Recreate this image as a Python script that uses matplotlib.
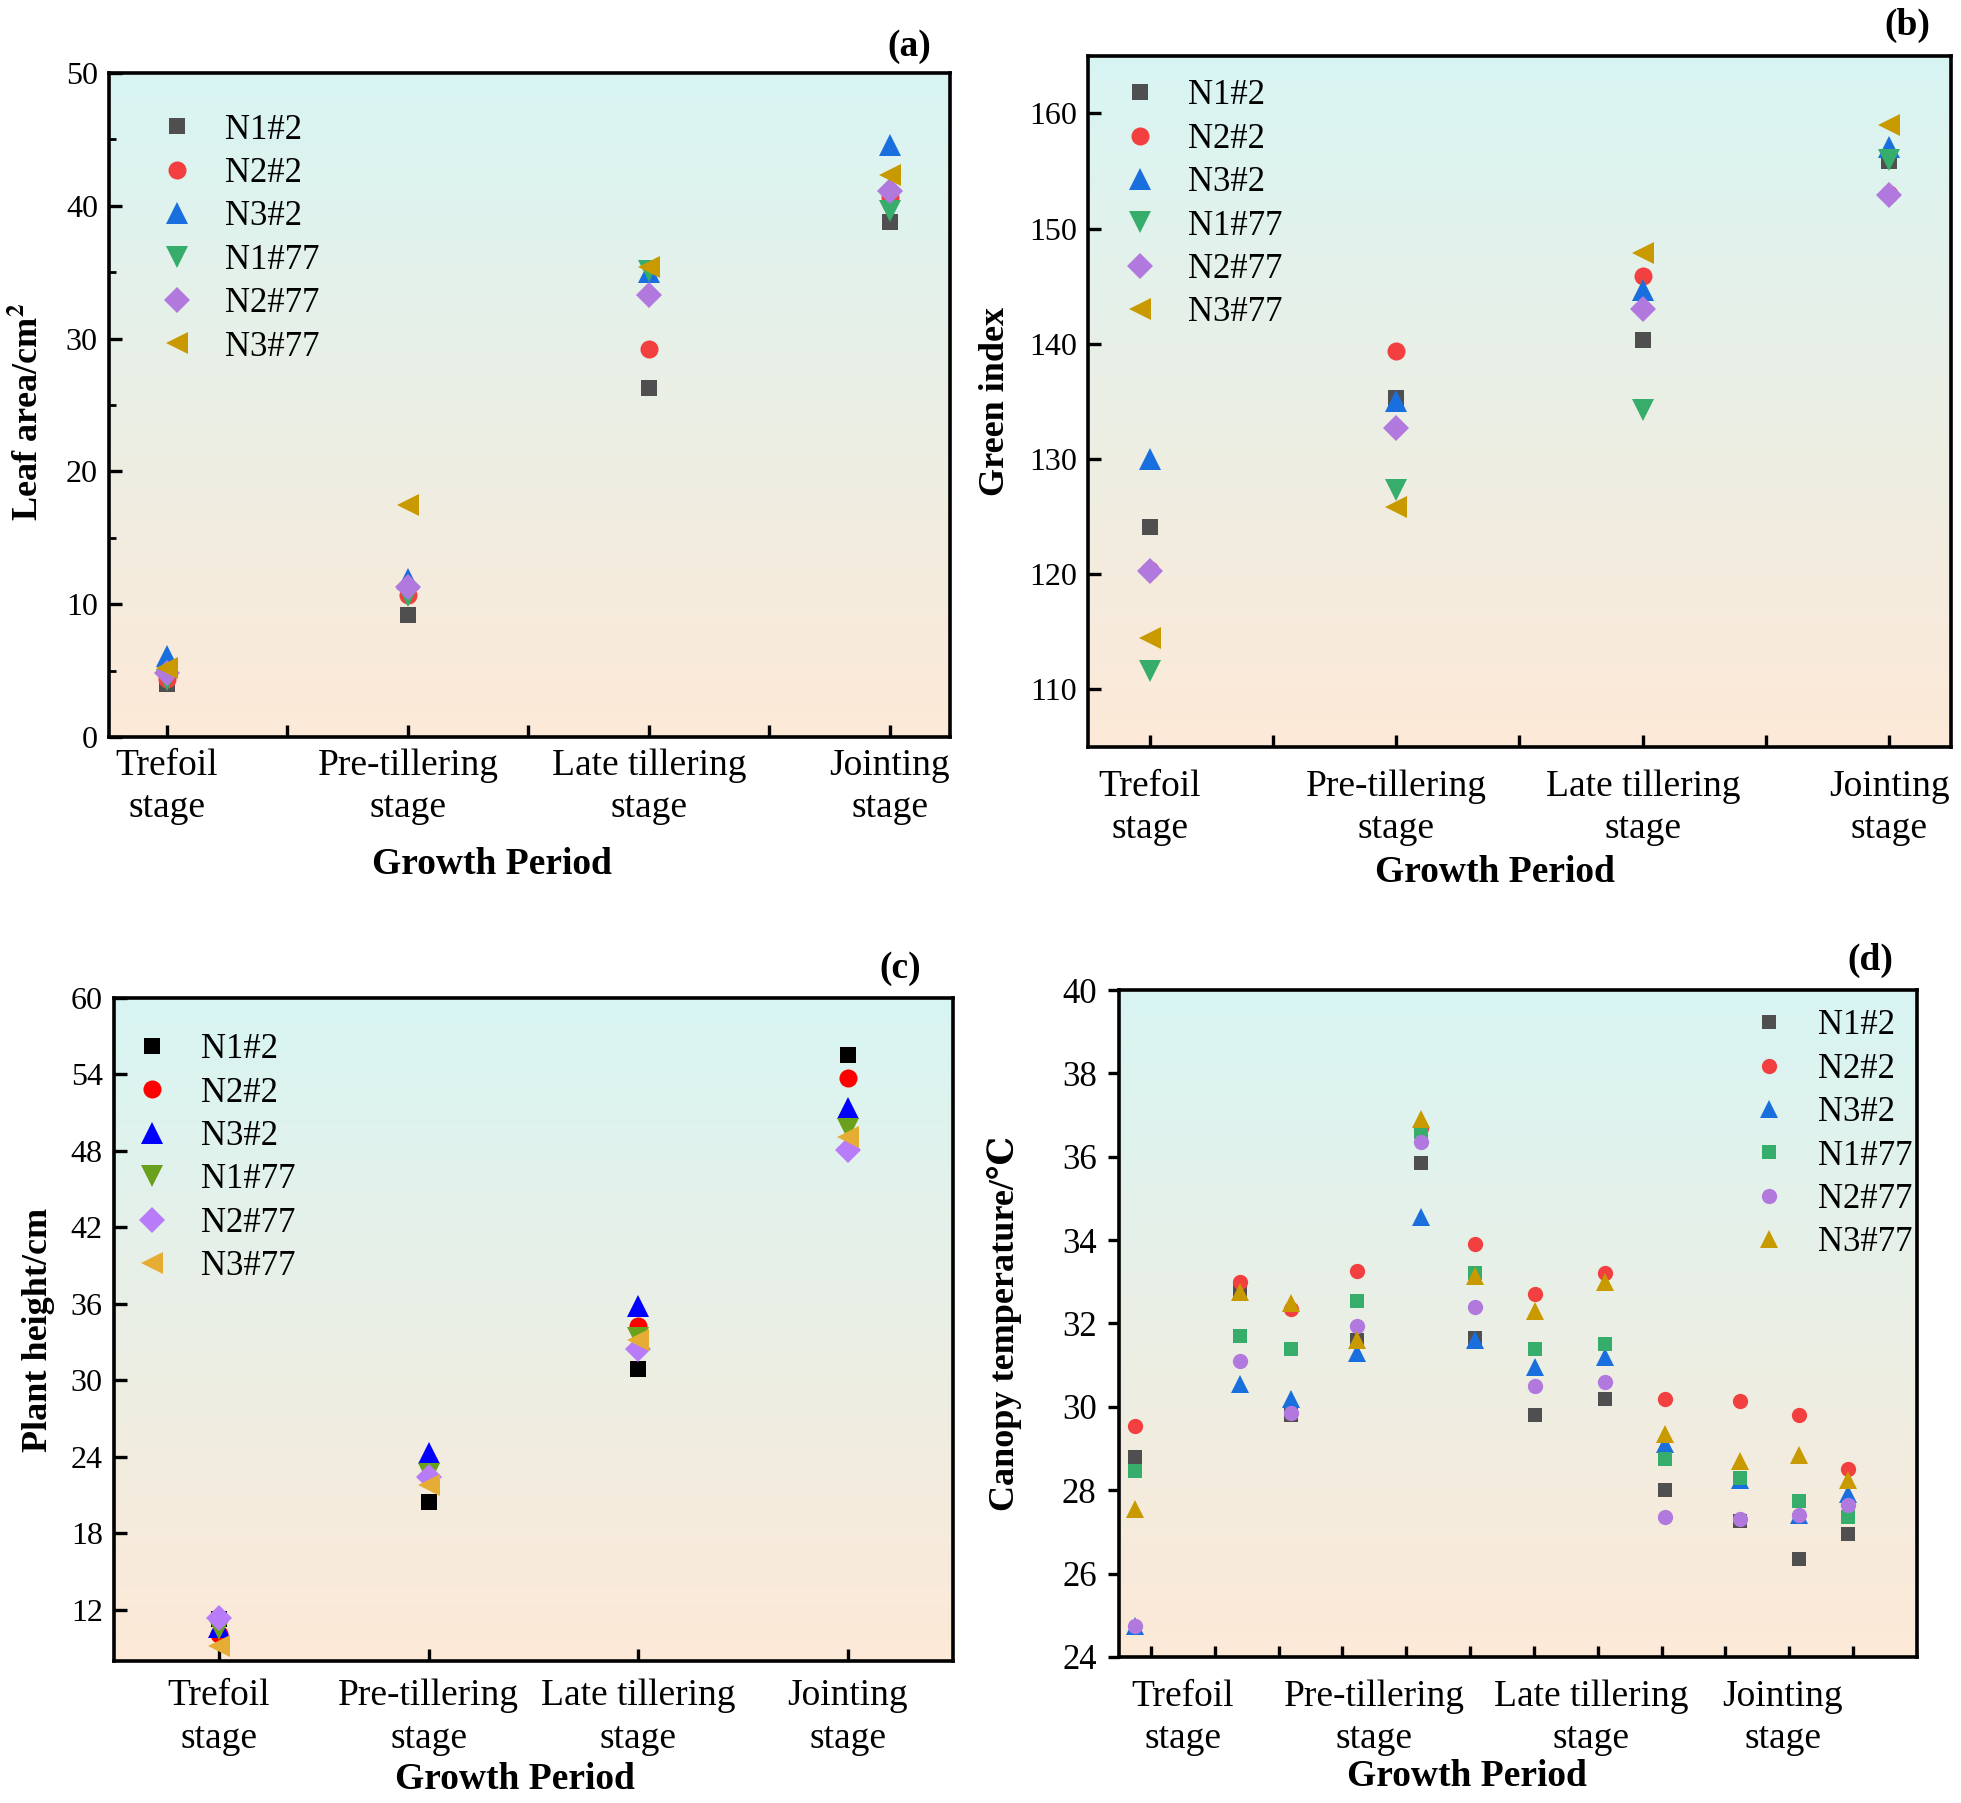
import numpy as np
import matplotlib
matplotlib.use("Agg")
import matplotlib.pyplot as plt
from matplotlib.colors import LinearSegmentedColormap

plt.rcParams['font.family'] = ['Liberation Serif', 'DejaVu Serif']
plt.rcParams['mathtext.fontset'] = 'stix'

# ---- data ----
series = ["N1#2", "N2#2", "N3#2", "N1#77", "N2#77", "N3#77"]
stages = ["Trefoil\nstage", "Pre-tillering\nstage", "Late tillering\nstage", "Jointing\nstage"]

# (a) leaf area, cm2
leaf_area = {
    "N1#2":  [4.0, 9.2, 26.3, 38.8],
    "N2#2":  [4.4, 10.7, 29.2, 40.7],
    "N3#2":  [6.1, 11.9, 35.0, 44.6],
    "N1#77": [4.3, 10.6, 35.1, 39.6],
    "N2#77": [4.8, 11.3, 33.3, 41.1],
    "N3#77": [5.2, 17.5, 35.4, 42.3],
}
# (b) green index
green_index = {
    "N1#2":  [124.1, 135.3, 140.3, 155.9],
    "N2#2":  [120.4, 139.4, 145.9, 153.0],
    "N3#2":  [130.0, 135.0, 144.7, 157.1],
    "N1#77": [111.6, 127.3, 134.3, 156.0],
    "N2#77": [120.3, 132.7, 143.0, 152.9],
    "N3#77": [114.5, 125.8, 147.9, 159.0],
}
# (c) plant height, cm
plant_height = {
    "N1#2":  [11.3, 20.5, 30.9, 55.5],
    "N2#2":  [10.1, 23.5, 34.3, 53.7],
    "N3#2":  [10.7, 24.3, 35.8, 51.4],
    "N1#77": [10.5, 22.7, 33.3, 49.7],
    "N2#77": [11.4, 22.4, 32.5, 48.1],
    "N3#77": [9.2, 21.8, 33.2, 49.1],
}
# (d) canopy temperature, sampled 12 times
d_sample_x = [-0.25, 1.39, 2.19, 3.23, 4.23, 5.08, 6.02, 7.11, 8.06, 9.23, 10.16, 10.92]
d_stage_x = [0.5, 3.5, 6.9, 9.9]
canopy_temp = {
    "N1#2":  [28.8, 32.8, 29.8, 31.6, 35.85, 31.65, 29.8, 30.2, 28.0, 27.25, 26.35, 26.95],
    "N2#2":  [29.55, 33.0, 32.35, 33.25, 36.7, 33.9, 32.7, 33.2, 30.2, 30.15, 29.8, 28.5],
    "N3#2":  [24.75, 30.55, 30.2, 31.3, 34.55, 31.6, 30.95, 31.2, 29.1, 28.25, 27.4, 27.9],
    "N1#77": [28.45, 31.7, 31.4, 32.55, 36.6, 33.2, 31.4, 31.5, 28.75, 28.3, 27.75, 27.35],
    "N2#77": [24.75, 31.1, 29.85, 31.95, 36.35, 32.4, 30.5, 30.6, 27.35, 27.3, 27.4, 27.65],
    "N3#77": [27.55, 32.75, 32.5, 31.6, 36.9, 33.15, 32.3, 33.0, 29.35, 28.7, 28.85, 28.25],
}

colors_main = ["#4f4f4f", "#f24040", "#1a6fdf", "#37ad6b", "#b178de", "#c99a00"]
colors_c = ["#000000", "#ff0000", "#0000ff", "#6aa11c", "#b97cf8", "#e6ad34"]
markers_abc = ["s", "o", "^", "v", "D", "<"]
sizes_abc = [12, 13, 16, 16, 13, 16]
markers_d = ["s", "o", "^", "s", "o", "^"]
sizes_d = [9.5, 11, 12.5, 9.5, 11, 12.5]

grad_cmap = LinearSegmentedColormap.from_list("bg", ["#fde9d7", "#d8f5f3"])


def background(ax):
    grad = np.linspace(0, 1, 256).reshape(-1, 1)
    ax.imshow(grad, extent=[0, 1, 0, 1], transform=ax.transAxes, aspect="auto",
              cmap=grad_cmap, origin="lower", zorder=0)


def style_axes(ax):
    for sp in ax.spines.values():
        sp.set_linewidth(2.6)


fig = plt.figure(figsize=(19.61, 18.03), dpi=100)

ax_a = fig.add_axes([0.0556, 0.5912, 0.4289, 0.3683])
ax_b = fig.add_axes([0.5548, 0.5857, 0.4401, 0.3833])
ax_c = fig.add_axes([0.0581, 0.0788, 0.4278, 0.3677])
ax_d = fig.add_axes([0.5706, 0.0810, 0.4069, 0.3699])

legend_kw = dict(frameon=False, fontsize=25, handlelength=1.0, handletextpad=0.9,
                 labelspacing=0.3, borderpad=0, borderaxespad=0)


def stage_panel(ax, data, colors, xlim, ylim, yticks, ylabel, leg_anchor, minor_x=True):
    background(ax)
    xs = np.arange(len(stages))
    for name, c, m, ms in zip(series, colors, markers_abc, sizes_abc):
        ax.plot(xs, data[name], linestyle="none", marker=m, color=c, ms=ms,
                markeredgewidth=0, label=name, zorder=3)
    ax.set_xlim(*xlim)
    ax.set_ylim(*ylim)
    ax.set_xticks(xs)
    ax.set_xticklabels(stages, fontsize=27, linespacing=1.3)
    if minor_x:
        ax.set_xticks(xs[:-1] + 0.5, minor=True)
    ax.set_yticks(yticks)
    ax.tick_params(axis="y", labelsize=23, direction="in", length=9, width=2.4, pad=8,
                   right=False)
    ax.tick_params(axis="x", direction="in", length=9, width=2.4, top=False)
    ax.tick_params(axis="x", which="minor", direction="in", length=9, width=2.4, top=False)
    ax.set_ylabel(ylabel, fontsize=26, fontweight="bold")
    ax.set_xlabel("Growth Period", fontsize=27, fontweight="bold")
    ax.legend(loc="upper left", bbox_to_anchor=leg_anchor, **legend_kw)
    style_axes(ax)


# (a)
stage_panel(ax_a, leaf_area, colors_main, (-0.24, 3.25), (0, 50), np.arange(0, 51, 10),
            "Leaf area/cm$^{\\mathbf{2}}$", (0.060, 0.939))
ax_a.set_yticks(np.arange(5, 50, 10), minor=True)
ax_a.tick_params(axis="y", which="minor", direction="in", length=5, width=2.0, right=False)
ax_a.tick_params(axis="x", pad=8)
ax_a.yaxis.set_label_coords(-0.0755, 0.49)
ax_a.xaxis.set_label_coords(0.455, -0.166)

# (b)
stage_panel(ax_b, green_index, colors_main, (-0.25, 3.25), (105, 165), np.arange(110, 161, 10),
            "Green index", (0.040, 0.966))
ax_b.tick_params(axis="x", pad=16)
ax_b.yaxis.set_label_coords(-0.088, 0.5)
ax_b.xaxis.set_label_coords(0.472, -0.156)

# (c)
stage_panel(ax_c, plant_height, colors_c, (-0.5, 3.5), (8, 60), np.arange(12, 61, 6),
            "Plant height/cm", (0.025, 0.947), minor_x=False)
ax_c.tick_params(axis="x", pad=13)
ax_c.yaxis.set_label_coords(-0.0697, 0.5)
ax_c.xaxis.set_label_coords(0.478, -0.153)

# (d)
background(ax_d)
for name, c, m, ms in zip(series, colors_main, markers_d, sizes_d):
    ax_d.plot(d_sample_x, canopy_temp[name], linestyle="none", marker=m, color=c, ms=ms,
              markeredgewidth=0, label=name, zorder=3)
ax_d.set_xlim(-0.5, 12)
ax_d.set_ylim(24, 40)
ax_d.set_yticks(np.arange(24, 41, 2))
ax_d.set_xticks(d_stage_x)
ax_d.set_xticklabels(stages, fontsize=27, linespacing=1.3)
ax_d.tick_params(axis="x", which="major", length=0, pad=16)
ax_d.set_xticks(np.arange(0, 12, 1), minor=True)
ax_d.tick_params(axis="x", which="minor", direction="in", length=8, width=2.4, top=False)
ax_d.tick_params(axis="y", labelsize=25, direction="out", length=8, width=2.4, pad=8, right=False)
ax_d.set_ylabel("Canopy temperature/\u2103", fontsize=26, fontweight="bold",
                family=["Liberation Serif", "DejaVu Serif"])
ax_d.set_xlabel("Growth Period", fontsize=27, fontweight="bold")
ax_d.yaxis.set_label_coords(-0.1216, 0.5)
ax_d.xaxis.set_label_coords(0.436, -0.153)
ax_d.legend(loc="upper left", bbox_to_anchor=(0.793, 0.971), **legend_kw)
style_axes(ax_d)

# panel tags
for tag, x, y in [("(a)", 909, 47), ("(b)", 1907, 25), ("(c)", 900, 969), ("(d)", 1870, 960)]:
    fig.text(x / 1961, 1 - y / 1803, tag, fontsize=27, fontweight="bold", ha="center", va="center")

fig.savefig("out.png", dpi=100)
